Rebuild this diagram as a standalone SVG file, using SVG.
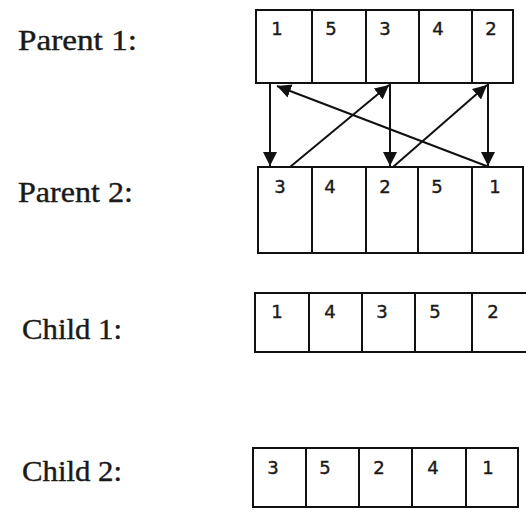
<svg xmlns="http://www.w3.org/2000/svg" width="526" height="519" viewBox="0 0 526 519">
<style>
.cell{fill:#fff;stroke:#111;stroke-width:2}
.num{font-family:"DejaVu Sans",Verdana,sans-serif;font-size:18px;fill:#1a1a1a;stroke:#1a1a1a;stroke-width:0.4;text-anchor:middle}
.lbl{font-family:"Liberation Serif","Times New Roman",serif;font-size:29px;fill:#1a1a1a;stroke:#1a1a1a;stroke-width:0.4}
.arr{stroke:#111;stroke-width:2;fill:none;marker-end:url(#ah)}
</style>
<defs>
<marker id="ah" viewBox="0 0 10 10" refX="10" refY="5" markerWidth="7" markerHeight="7" markerUnits="strokeWidth" orient="auto">
<path d="M0,0 L10,5 L0,10 z" fill="#111"/>
</marker>
</defs>
<rect width="526" height="519" fill="#fff"/>
<g id="labels">
<text class="lbl" x="18" y="50" textLength="119" lengthAdjust="spacingAndGlyphs">Parent 1:</text>
<text class="lbl" x="18" y="202" textLength="115" lengthAdjust="spacingAndGlyphs">Parent 2:</text>
<text class="lbl" x="22" y="339" textLength="100" lengthAdjust="spacingAndGlyphs">Child 1:</text>
<text class="lbl" x="22" y="481" textLength="100" lengthAdjust="spacingAndGlyphs">Child 2:</text>
</g>
<g id="parent1">
<rect class="cell" x="256" y="10" width="56" height="73"/>
<rect class="cell" x="312" y="10" width="54" height="73"/>
<rect class="cell" x="366" y="10" width="53" height="73"/>
<rect class="cell" x="419" y="10" width="53" height="73"/>
<rect class="cell" x="472" y="10" width="41" height="73"/>
<text class="num" x="277" y="35">1</text>
<text class="num" x="331" y="35">5</text>
<text class="num" x="385" y="35">3</text>
<text class="num" x="438" y="35">4</text>
<text class="num" x="491" y="35">2</text>
</g>
<g id="parent2">
<rect class="cell" x="258" y="167" width="54" height="86"/>
<rect class="cell" x="312" y="167" width="54" height="86"/>
<rect class="cell" x="366" y="167" width="52" height="86"/>
<rect class="cell" x="418" y="167" width="54" height="86"/>
<rect class="cell" x="472" y="167" width="51" height="86"/>
<text class="num" x="280" y="193">3</text>
<text class="num" x="330" y="193">4</text>
<text class="num" x="385" y="193">2</text>
<text class="num" x="437" y="193">5</text>
<text class="num" x="495" y="193">1</text>
</g>
<g id="child1">
<rect class="cell" x="255" y="293" width="54" height="59"/>
<rect class="cell" x="309" y="293" width="53" height="59"/>
<rect class="cell" x="362" y="293" width="53" height="59"/>
<rect class="cell" x="415" y="293" width="57" height="59"/>
<rect class="cell" x="472" y="293" width="60" height="59"/>
<text class="num" x="277" y="318">1</text>
<text class="num" x="330" y="318">4</text>
<text class="num" x="382" y="318">3</text>
<text class="num" x="435" y="318">5</text>
<text class="num" x="493" y="318">2</text>
</g>
<g id="child2">
<rect class="cell" x="253" y="448" width="53" height="59"/>
<rect class="cell" x="306" y="448" width="53" height="59"/>
<rect class="cell" x="359" y="448" width="53" height="59"/>
<rect class="cell" x="412" y="448" width="54" height="59"/>
<rect class="cell" x="466" y="448" width="52" height="59"/>
<text class="num" x="273" y="474">3</text>
<text class="num" x="325" y="474">5</text>
<text class="num" x="379" y="474">2</text>
<text class="num" x="433" y="474">4</text>
<text class="num" x="488" y="474">1</text>
</g>
<g id="connectors">
<line class="arr" x1="270" y1="84" x2="270" y2="166"/>
<line class="arr" x1="390" y1="84" x2="390" y2="166"/>
<line class="arr" x1="488" y1="84" x2="488" y2="166"/>
<line class="arr" x1="290" y1="167" x2="389" y2="85"/>
<line class="arr" x1="393" y1="167" x2="487" y2="85"/>
<line class="arr" x1="489" y1="167" x2="277" y2="86"/>
</g>
</svg>
